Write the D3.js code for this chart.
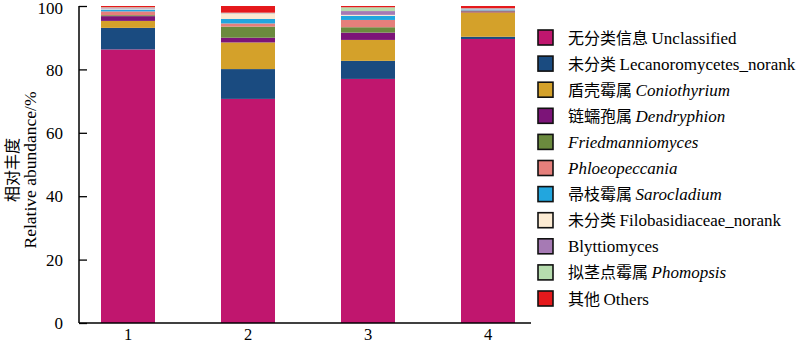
<!DOCTYPE html>
<html><head><meta charset="utf-8">
<script src="https://cdn.jsdelivr.net/npm/d3@7"></script>
<style>body{margin:0;background:#fff}svg{display:block}</style>
</head><body>
<svg id="c" width="800" height="346"></svg>
<script>
const samples = ["1","2","3","4"];
const taxaZh = ["无分类信息 ","未分类 ","盾壳霉属 ","链蠕孢属 ","","","帚枝霉属 ","未分类 ","","拟茎点霉属 ","其他 "];
const taxaEn = ["Unclassified","Lecanoromycetes_norank","Coniothyrium","Dendryphion","Friedmanniomyces","Phloeopeccania","Sarocladium","Filobasidiaceae_norank","Blyttiomyces","Phomopsis","Others"];
const taxaItalic = [false,false,true,true,true,true,true,false,false,true,false];
const colors = ["#C0166E","#1A4B80","#D4A12A","#7C1478","#6B8A3E","#E57F7B","#22A6DE","#FCEBD3","#A67AB4","#B6DCAE","#E5191C"];
const unclassified = [86.3,70.7,77.0,89.6];
const lecanoro     = [6.8, 9.4, 5.7, 0.7];
const coniothyrium = [2.2, 8.4, 6.6, 7.7];
const dendryphion  = [1.5, 1.5, 2.3, 0.3];
const friedmann    = [0.3, 3.5, 1.7, 0.1];
const phloeo       = [1.2, 1.0, 2.3, 0.2];
const sarocladium  = [0.6, 1.4, 1.3, 0.3];
const filobasid    = [0.3, 1.7, 0.3, 0.1];
const blyttiomyces = [0.2, 0.1, 1.2, 0.2];
const phomopsis    = [0.2, 0.2, 1.2, 0.1];
const others       = [0.4, 2.1, 0.4, 0.7];
const yTicks = [0,20,40,60,80,100];

const series = [unclassified,lecanoro,coniothyrium,dendryphion,friedmann,phloeo,sarocladium,filobasid,blyttiomyces,phomopsis,others];
const rows = samples.map((s,i)=>{const r={sample:s}; taxaEn.forEach((t,j)=>r[t]=series[j][i]); return r;});
const stacked = d3.stack().keys(taxaEn)(rows);

const svg = d3.select("#c");
const font = "'Liberation Serif','Times New Roman',serif";
const cjk = "'Noto Sans CJK SC',sans-serif";
const x = d3.scaleBand().domain(samples).range([68,548]).paddingInner(0.55).paddingOuter(0.275);
const y = d3.scaleLinear().domain([0,100]).range([323,6]);

svg.append("g").selectAll("g").data(stacked).join("g")
  .attr("fill",(d,i)=>colors[i])
  .selectAll("rect").data(d=>d).join("rect")
  .attr("x",d=>x(d.data.sample)).attr("width",x.bandwidth())
  .attr("y",d=>y(d[1])).attr("height",d=>Math.max(0,y(d[0])-y(d[1])));

// y axis
const ya = svg.append("g").attr("transform","translate(79,0)")
  .call(d3.axisLeft(y).tickValues(yTicks).tickSize(-8).tickPadding(16));
ya.select(".domain").attr("d","M0,6V323").attr("stroke","#000").attr("stroke-width",1.5);
ya.selectAll(".tick line").attr("stroke","#000").attr("stroke-width",1.3);
ya.selectAll(".tick text").attr("font-family",font).attr("font-size",17).attr("fill","#000")
  .attr("dy",d=>d===100?"0.42em":"0.34em");

// x axis
const xa = svg.append("g").attr("transform","translate(0,323)")
  .call(d3.axisBottom(x).tickSize(0).tickPadding(5));
xa.select(".domain").attr("d","M79,0H531").attr("stroke","#000").attr("stroke-width",1.5);
xa.selectAll(".tick text").attr("font-family",font).attr("font-size",16.5).attr("fill","#000");

// y label
const yl = svg.append("g").attr("transform","translate(0,170) rotate(-90)");
yl.append("text").attr("x",0).attr("y",18).attr("text-anchor","middle")
  .attr("font-family",cjk).attr("font-size",16).text("相对丰度");
yl.append("text").attr("x",0).attr("y",36).attr("text-anchor","middle")
  .attr("font-family",font).attr("font-size",17.5).text("Relative abundance/%");

// legend
const lg = svg.append("g").selectAll("g").data(taxaEn).join("g")
  .attr("transform",(d,i)=>`translate(538,${37.5+i*26.1})`);
lg.append("rect").attr("x",0).attr("y",-7.5).attr("width",15).attr("height",15)
  .attr("fill",(d,i)=>colors[i]).attr("stroke","#111").attr("stroke-width",1.6);
const lt = lg.append("text").attr("x",30).attr("y",6).attr("font-size",17).attr("font-family",font);
lt.append("tspan").attr("font-family",cjk).attr("font-size",16).text((d,i)=>taxaZh[i]);
lt.append("tspan").attr("font-style",(d,i)=>taxaItalic[i]?"italic":"normal").text(d=>d);
</script>
</body></html>
